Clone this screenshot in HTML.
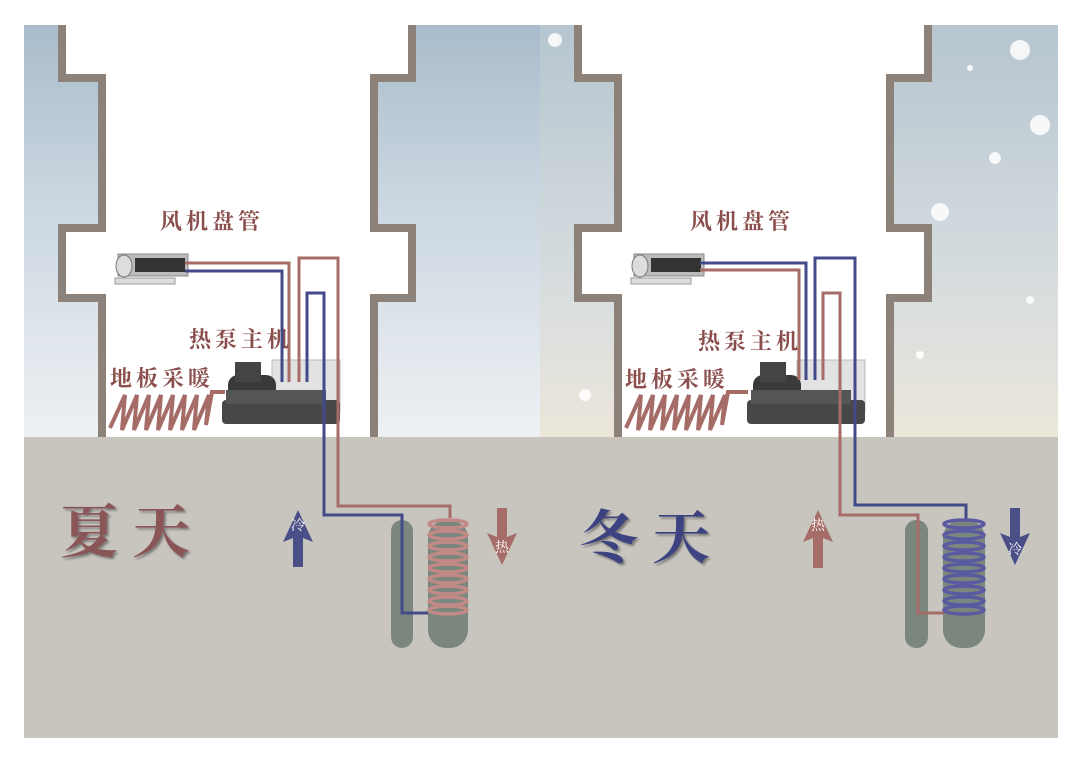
<!DOCTYPE html>
<html><head><meta charset="utf-8"><style>
html,body{margin:0;padding:0;background:#fff;}
svg{display:block}
.lbl{font-family:"Liberation Serif","Noto Serif CJK SC",serif;font-size:22px;fill:#8a4f4c;letter-spacing:4px;font-weight:bold}
.big{font-family:"Liberation Serif","Noto Serif CJK SC",serif;font-size:58px;letter-spacing:14px;font-weight:bold}
</style></head><body>
<svg width="1081" height="765" viewBox="0 0 1081 765" xmlns="http://www.w3.org/2000/svg">
<defs>
<linearGradient id="skyL" x1="0" y1="0" x2="0" y2="1">
<stop offset="0" stop-color="#a9bccb"/><stop offset="0.4" stop-color="#c9d5df"/><stop offset="1" stop-color="#eef1f4"/></linearGradient>
<linearGradient id="skyR" x1="0" y1="0" x2="0" y2="1">
<stop offset="0" stop-color="#b6c5cf"/><stop offset="0.6" stop-color="#d5dcdf"/><stop offset="1" stop-color="#ece6da"/></linearGradient>
<filter id="sh"><feDropShadow dx="2" dy="2" stdDeviation="1" flood-color="#444" flood-opacity="0.6"/></filter>
</defs>
<rect x="24" y="25" width="516" height="412" fill="url(#skyL)"/>
<rect x="540" y="25" width="518" height="412" fill="url(#skyR)"/>
<g id="bld">
<polygon points="62,25 412,25 412,78 374,78 374,228 412,228 412,298 374,298 374,437 102,437 102,298 62,298 62,228 102,228 102,78 62,78" fill="#fff"/>
<polyline points="62,25 62,78 102,78 102,228 62,228 62,298 102,298 102,437" fill="none" stroke="#8d827a" stroke-width="8"/>
<polyline points="412,25 412,78 374,78 374,228 412,228 412,298 374,298 374,437" fill="none" stroke="#8d827a" stroke-width="8"/>
</g>
<g transform="translate(516,0)">
<polygon points="62,25 412,25 412,78 374,78 374,228 412,228 412,298 374,298 374,437 102,437 102,298 62,298 62,228 102,228 102,78 62,78" fill="#fff"/>
<polyline points="62,25 62,78 102,78 102,228 62,228 62,298 102,298 102,437" fill="none" stroke="#8d827a" stroke-width="8"/>
<polyline points="412,25 412,78 374,78 374,228 412,228 412,298 374,298 374,437" fill="none" stroke="#8d827a" stroke-width="8"/>
</g>
<g fill="#fff" opacity="0.85">
<circle cx="995" cy="158" r="6"/><circle cx="970" cy="68" r="3"/><circle cx="585" cy="395" r="6"/><circle cx="1030" cy="300" r="4"/><circle cx="920" cy="355" r="4"/><circle cx="1040" cy="125" r="10"/><circle cx="1020" cy="50" r="10"/><circle cx="940" cy="212" r="9"/><circle cx="555" cy="40" r="7"/>
</g>
<rect x="24" y="437" width="1034" height="301" fill="#c8c5bf"/>
<text class="lbl" x="160" y="229">风机盘管</text>
<text class="lbl" x="189" y="347">热泵主机</text>
<text class="lbl" x="110" y="386">地板采暖</text>
<text class="lbl" x="690" y="229">风机盘管</text>
<text class="lbl" x="698" y="349">热泵主机</text>
<text class="lbl" x="625" y="387">地板采暖</text>
<g id="fc">
<rect x="118" y="254" width="70" height="22" fill="#bbb" stroke="#888"/>
<rect x="135" y="258" width="50" height="14" fill="#333"/>
<ellipse cx="124" cy="266" rx="8" ry="11" fill="#ddd" stroke="#777"/>
<rect x="115" y="278" width="60" height="6" fill="#ddd" stroke="#999"/>
</g>
<use href="#fc" transform="translate(516,0)"/>
<g id="mc">
<rect x="272" y="360" width="68" height="52" fill="#e2e2e2" stroke="#bbb"/>
<rect x="228" y="375" width="48" height="30" rx="10" fill="#3a3a3a"/>
<rect x="235" y="362" width="26" height="20" fill="#444"/>
<rect x="222" y="400" width="118" height="24" rx="4" fill="#474747"/>
<rect x="226" y="390" width="100" height="14" fill="#555"/>
</g>
<use href="#mc" transform="translate(525,0)"/>
<path d="M110,428 L125,395 L122,430 L137,395 L134,430 L149,395 L146,430 L161,395 L158,430 L173,395 L170,430 L185,395 L182,430 L197,395 L194,430 L209,395 L206,425 L212,392 L225,392" fill="none" stroke="#a56c68" stroke-width="4"/>
<path d="M626,428 L641,395 L638,430 L653,395 L650,430 L665,395 L662,430 L677,395 L674,430 L689,395 L686,430 L701,395 L698,430 L713,395 L710,430 L725,395 L722,425 L728,392 L748,392" fill="none" stroke="#a56c68" stroke-width="4"/>
<rect x="391" y="520" width="22" height="128" rx="11" fill="#7b877e"/>
<rect x="428" y="520" width="40" height="128" rx="18" fill="#7b877e"/>
<rect x="905" y="520" width="23" height="128" rx="11" fill="#7b877e"/>
<rect x="943" y="520" width="42" height="128" rx="18" fill="#7b877e"/>
<g fill="none" stroke-width="3">
<polyline points="185,263 289,263 289,382" stroke="#a56c68"/>
<polyline points="185,271 282,271 282,382" stroke="#434a8a"/>
<polyline points="299,382 299,258 338,258 338,506 450,506 450,518" stroke="#a56c68"/>
<polyline points="307,382 307,293 324,293 324,515 402,515 402,613 428,613" stroke="#434a8a"/>
<polyline points="700,263 806,263 806,380" stroke="#434a8a"/>
<polyline points="700,270 799,270 799,380" stroke="#a56c68"/>
<polyline points="815,380 815,258 855,258 855,505 966,505 966,520" stroke="#434a8a"/>
<polyline points="823,380 823,293 840,293 840,515 918,515 918,613 945,613" stroke="#a56c68"/>
</g>
<g fill="none" stroke-width="3.5" stroke="#c28a86">
<ellipse cx="448" cy="524" rx="19" ry="4"/><ellipse cx="448" cy="535" rx="19" ry="4"/><ellipse cx="448" cy="546" rx="19" ry="4"/><ellipse cx="448" cy="557" rx="19" ry="4"/><ellipse cx="448" cy="568" rx="19" ry="4"/><ellipse cx="448" cy="579" rx="19" ry="4"/><ellipse cx="448" cy="590" rx="19" ry="4"/><ellipse cx="448" cy="601" rx="19" ry="4"/><ellipse cx="448" cy="610" rx="19" ry="4"/>
</g>
<g fill="none" stroke-width="3.5" stroke="#5a5aa0">
<ellipse cx="964" cy="524" rx="20" ry="4"/><ellipse cx="964" cy="535" rx="20" ry="4"/><ellipse cx="964" cy="546" rx="20" ry="4"/><ellipse cx="964" cy="557" rx="20" ry="4"/><ellipse cx="964" cy="568" rx="20" ry="4"/><ellipse cx="964" cy="579" rx="20" ry="4"/><ellipse cx="964" cy="590" rx="20" ry="4"/><ellipse cx="964" cy="601" rx="20" ry="4"/><ellipse cx="964" cy="610" rx="20" ry="4"/>
</g>
<polygon points="298,510 283,542 293,538 293,567 303,567 303,538 313,542" fill="#4a4f88"/>
<text x="298" y="530" font-family="'Noto Serif CJK SC',serif" font-size="14" fill="#fff" text-anchor="middle">冷</text>
<polygon points="502,565 487,533 497,537 497,508 507,508 507,537 517,533" fill="#a56c68"/>
<text x="502" y="552" font-family="'Noto Serif CJK SC',serif" font-size="14" fill="#fff" text-anchor="middle">热</text>
<polygon points="818,510 803,542 813,538 813,568 823,568 823,538 833,542" fill="#a56c68"/>
<text x="818" y="530" font-family="'Noto Serif CJK SC',serif" font-size="14" fill="#fff" text-anchor="middle">热</text>
<polygon points="1015,565 1000,533 1010,537 1010,508 1020,508 1020,537 1030,533" fill="#4a4f88"/>
<text x="1015" y="554" font-family="'Noto Serif CJK SC',serif" font-size="14" fill="#fff" text-anchor="middle">冷</text>
<text class="big" x="60" y="552" fill="#8a5556" filter="url(#sh)">夏天</text>
<text class="big" x="580" y="558" fill="#3e4380" filter="url(#sh)">冬天</text>
</svg>
</body></html>
